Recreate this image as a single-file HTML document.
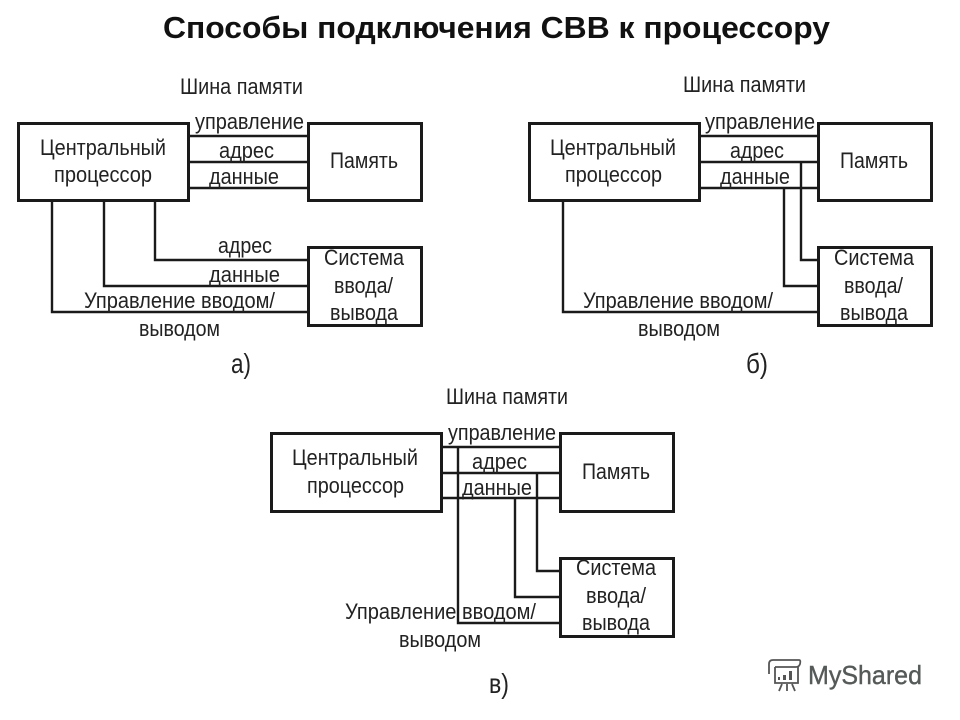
<!DOCTYPE html>
<html lang="ru">
<head>
<meta charset="utf-8">
<title>Способы подключения СВВ к процессору</title>
<style>
html,body{margin:0;padding:0;background:#fff;width:960px;height:720px;overflow:hidden}
svg{display:block}
text{font-family:"Liberation Sans",sans-serif;font-size:22px;fill:#222}
.l{stroke:#1a1a1a;stroke-width:2.4;fill:none;stroke-linecap:square}
.b{stroke:#1a1a1a;stroke-width:3;fill:#fff}
</style>
</head>
<body>
<svg width="960" height="720" viewBox="0 0 960 720" xmlns="http://www.w3.org/2000/svg">
<text x="163" y="38" style="font-size:31px;font-weight:bold;fill:#111" textLength="667" lengthAdjust="spacingAndGlyphs">Способы подключения СВВ к процессору</text>

<!-- a -->
<path class="l" d="M188 136H308M188 162H308M188 188H308M155 201V260H308M104 201V286H308M52 201V312H308"/>
<rect class="b" x="18.500" y="123.500" width="170" height="77"/>
<rect class="b" x="308.500" y="123.500" width="113" height="77"/>
<rect class="b" x="308.500" y="247.500" width="113" height="78"/>
<text x="180" y="94" textLength="123" lengthAdjust="spacingAndGlyphs">Шина памяти</text>
<text x="195" y="129" textLength="109" lengthAdjust="spacingAndGlyphs">управление</text>
<text x="219" y="158" textLength="55" lengthAdjust="spacingAndGlyphs">адрес</text>
<text x="209" y="184" textLength="70" lengthAdjust="spacingAndGlyphs">данные</text>
<text x="40" y="155" textLength="126" lengthAdjust="spacingAndGlyphs">Центральный</text>
<text x="54" y="182" textLength="98" lengthAdjust="spacingAndGlyphs">процессор</text>
<text x="330" y="168" textLength="68" lengthAdjust="spacingAndGlyphs">Память</text>
<text x="218" y="253" textLength="54" lengthAdjust="spacingAndGlyphs">адрес</text>
<text x="209" y="282" textLength="71" lengthAdjust="spacingAndGlyphs">данные</text>
<text x="324" y="265" textLength="80" lengthAdjust="spacingAndGlyphs">Система</text>
<text x="334" y="293" textLength="59" lengthAdjust="spacingAndGlyphs">ввода/</text>
<text x="330" y="320" textLength="68" lengthAdjust="spacingAndGlyphs">вывода</text>
<text x="84" y="308" textLength="191" lengthAdjust="spacingAndGlyphs">Управление вводом/</text>
<text x="139" y="336" textLength="81" lengthAdjust="spacingAndGlyphs">выводом</text>
<text x="231" y="373" style="font-size:28px" textLength="20" lengthAdjust="spacingAndGlyphs">а)</text>

<!-- b -->
<path class="l" d="M699 136H818M699 162H818M699 188H818M801 162V260H818M784 188V286H818M563 201V312H818"/>
<rect class="b" x="529.500" y="123.500" width="170" height="77"/>
<rect class="b" x="818.500" y="123.500" width="113" height="77"/>
<rect class="b" x="818.500" y="247.500" width="113" height="78"/>
<text x="683" y="92" textLength="123" lengthAdjust="spacingAndGlyphs">Шина памяти</text>
<text x="705" y="129" textLength="110" lengthAdjust="spacingAndGlyphs">управление</text>
<text x="730" y="158" textLength="54" lengthAdjust="spacingAndGlyphs">адрес</text>
<text x="720" y="184" textLength="70" lengthAdjust="spacingAndGlyphs">данные</text>
<text x="550" y="155" textLength="126" lengthAdjust="spacingAndGlyphs">Центральный</text>
<text x="565" y="182" textLength="97" lengthAdjust="spacingAndGlyphs">процессор</text>
<text x="840" y="168" textLength="68" lengthAdjust="spacingAndGlyphs">Память</text>
<text x="834" y="265" textLength="80" lengthAdjust="spacingAndGlyphs">Система</text>
<text x="844" y="293" textLength="59" lengthAdjust="spacingAndGlyphs">ввода/</text>
<text x="840" y="320" textLength="68" lengthAdjust="spacingAndGlyphs">вывода</text>
<text x="583" y="308" textLength="190" lengthAdjust="spacingAndGlyphs">Управление вводом/</text>
<text x="638" y="336" textLength="82" lengthAdjust="spacingAndGlyphs">выводом</text>
<text x="746" y="373" style="font-size:28px" textLength="22" lengthAdjust="spacingAndGlyphs">б)</text>

<!-- c -->
<path class="l" d="M441 447H560M441 473H560M441 498H560M458 447V623H560M537 473V571H560M515 498V597H560"/>
<rect class="b" x="271.500" y="433.500" width="170" height="78"/>
<rect class="b" x="560.500" y="433.500" width="113" height="78"/>
<rect class="b" x="560.500" y="558.500" width="113" height="78"/>
<text x="446" y="404" textLength="122" lengthAdjust="spacingAndGlyphs">Шина памяти</text>
<text x="448" y="440" textLength="108" lengthAdjust="spacingAndGlyphs">управление</text>
<text x="472" y="469" textLength="55" lengthAdjust="spacingAndGlyphs">адрес</text>
<text x="462" y="495" textLength="70" lengthAdjust="spacingAndGlyphs">данные</text>
<text x="292" y="465" textLength="126" lengthAdjust="spacingAndGlyphs">Центральный</text>
<text x="307" y="493" textLength="97" lengthAdjust="spacingAndGlyphs">процессор</text>
<text x="582" y="479" textLength="68" lengthAdjust="spacingAndGlyphs">Память</text>
<text x="576" y="575" textLength="80" lengthAdjust="spacingAndGlyphs">Система</text>
<text x="586" y="603" textLength="60" lengthAdjust="spacingAndGlyphs">ввода/</text>
<text x="582" y="630" textLength="68" lengthAdjust="spacingAndGlyphs">вывода</text>
<text x="345" y="619" textLength="191" lengthAdjust="spacingAndGlyphs">Управление вводом/</text>
<text x="399" y="647" textLength="82" lengthAdjust="spacingAndGlyphs">выводом</text>
<text x="489" y="693" style="font-size:28px" textLength="20" lengthAdjust="spacingAndGlyphs">в)</text>

<!-- watermark -->
<g fill="none" stroke="#555" stroke-width="1.800">
<path d="M769 674V664Q769 660 773 660H799Q801 660 800 664Q799 667 796 667H775"/>
<path d="M775 667V683H798V667"/>
<path d="M782 684L779 691M787 684V691M792 684L795 691"/>
</g>
<rect x="778" y="677" width="2" height="3" fill="#555"/>
<rect x="783" y="675" width="3" height="5" fill="#555"/>
<rect x="789" y="671" width="3" height="9" fill="#555"/>
<text x="808" y="684" style="font-size:26px;fill:#555a59;stroke:#555a59;stroke-width:0.400" textLength="114" lengthAdjust="spacingAndGlyphs">MyShared</text>
</svg>
</body>
</html>
